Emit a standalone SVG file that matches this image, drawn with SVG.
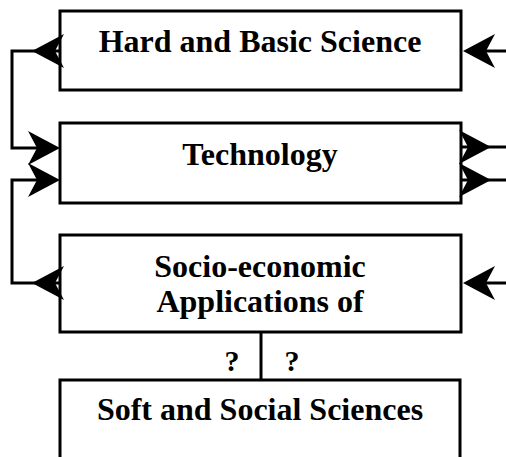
<svg xmlns="http://www.w3.org/2000/svg" xmlns:xlink="http://www.w3.org/1999/xlink" width="506" height="457" viewBox="0 0 506 457">
<style>
.box{fill:#fff;stroke:#000;stroke-width:3}
.ln{fill:none;stroke:#000;stroke-width:3}
.t{font-family:"Liberation Serif","Times New Roman",serif;font-weight:bold;font-size:32px;text-anchor:middle;fill:#000}
.q{font-family:"Liberation Serif","Times New Roman",serif;font-weight:bold;font-size:30px;text-anchor:middle;fill:#000}
</style>
<defs>
<path id="ah" d="M0,0 L-32,-17 L-23,0 L-32,17 Z" fill="#000"/>
</defs>
<g id="n1"><rect class="box" x="60" y="11" width="401" height="79"/><text class="t" x="260" y="52">Hard and Basic Science</text></g>
<g id="n2"><rect class="box" x="60" y="123" width="401" height="80"/><text class="t" x="260" y="165">Technology</text></g>
<g id="n3"><rect class="box" x="60" y="235" width="401" height="97"/><text class="t" x="260" y="277">Socio-economic</text><text class="t" x="260" y="312">Applications of</text></g>
<g id="n4"><rect class="box" x="60" y="380" width="400" height="90"/><text class="t" x="260" y="420">Soft and Social Sciences</text></g>
<g id="connectors">
<path class="ln" d="M60,51 H12 V148 H40"/>
<path class="ln" d="M40,180 H12 V283 H60"/>
<path class="ln" d="M261,332 V380"/>
<path class="ln" d="M480,51 H506"/>
<path class="ln" d="M461,147 H506"/>
<path class="ln" d="M461,180 H506"/>
<path class="ln" d="M480,283 H506"/>
<use xlink:href="#ah" transform="translate(32,51) rotate(180)"/>
<use xlink:href="#ah" transform="translate(60,148)"/>
<use xlink:href="#ah" transform="translate(60,180)"/>
<use xlink:href="#ah" transform="translate(32,283) rotate(180)"/>
<use xlink:href="#ah" transform="translate(463,51) rotate(180)"/>
<use xlink:href="#ah" transform="translate(491,147)"/>
<use xlink:href="#ah" transform="translate(491,180)"/>
<use xlink:href="#ah" transform="translate(463,283) rotate(180)"/>
<text class="q" x="232" y="371">?</text>
<text class="q" x="292" y="371">?</text>
</g>
</svg>
